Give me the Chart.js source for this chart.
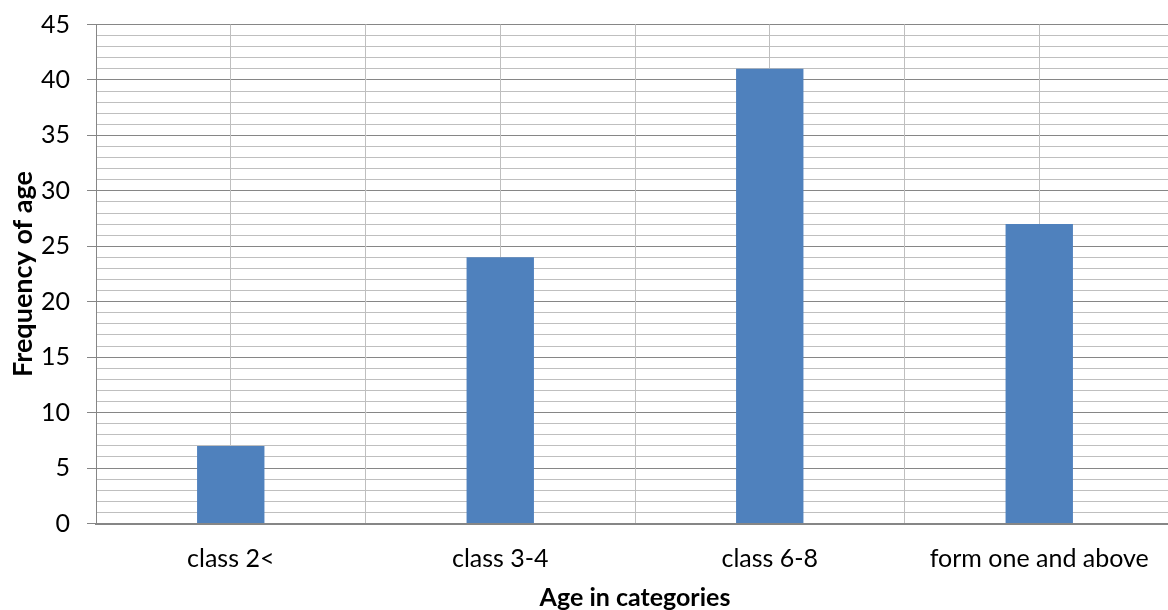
<!DOCTYPE html>
<html>
<head>
<meta charset="utf-8">
<script src="https://cdn.jsdelivr.net/npm/chart.js@4.4.1/dist/chart.umd.min.js"></script>
<style>
  html, body { margin: 0; padding: 0; background: #ffffff; overflow: hidden; }
  #wrap { width: 1174px; height: 610px; }
</style>
</head>
<body>
<div id="wrap"><canvas id="chart" width="1174" height="610"></canvas></div>
<script>
// Survey data: frequency of respondents per class / age category
const categories = ['class 2<', 'class 3-4', 'class 6-8', 'form one and above'];
const frequencies = [7, 24, 41, 27];

// Value axis range and tick spacing
const yMin = 0;
const yMax = 45;
const majorStep = 5;
const minorStep = 1;

const xTitle = 'Age in categories';
const yTitle = 'Frequency of age';

const FONT = 'Lato, "Open Sans", sans-serif';
const MAJOR_GRID = '#868686';
const MINOR_GRID = '#bfbfbf';
const BAR_BLUE = '#4f81bd';

// keep the plot edges fixed regardless of label overhang
const noVerticalPadding = (s) => { s.paddingTop = 0; s.paddingBottom = 0; };

new Chart(document.getElementById('chart'), {
  type: 'bar',
  data: {
    labels: categories,
    datasets: [{
      data: frequencies,
      backgroundColor: BAR_BLUE,
      borderWidth: 0,
      barPercentage: 1,
      categoryPercentage: 0.25,
      xAxisID: 'x',
      yAxisID: 'y'
    }]
  },
  options: {
    responsive: false,
    devicePixelRatio: 1,
    animation: false,
    events: [],
    layout: { padding: { top: 24.5, right: 0, bottom: 0, left: 0 } },
    plugins: {
      legend: { display: false },
      tooltip: { enabled: false }
    },
    scales: {
      // minor horizontal gridlines every unit
      yMinor: {
        type: 'linear',
        position: 'left',
        min: yMin,
        max: yMax,
        ticks: { display: false, stepSize: minorStep },
        grid: {
          color: (ctx) => (ctx.tick && ctx.tick.value % majorStep === 0) ? 'rgba(0,0,0,0)' : MINOR_GRID,
          drawTicks: false,
          lineWidth: 1
        },
        border: { display: false },
        afterFit: (s) => { s.width = 0; noVerticalPadding(s); }
      },
      y: {
        type: 'linear',
        position: 'left',
        min: yMin,
        max: yMax,
        ticks: {
          stepSize: majorStep,
          color: '#000000',
          padding: 17,
          font: { family: FONT, size: 25 }
        },
        grid: { color: MAJOR_GRID, tickLength: 9, lineWidth: 1 },
        border: { color: MAJOR_GRID, width: 1 },
        title: {
          display: true,
          text: yTitle,
          color: '#000000',
          font: { family: FONT, size: 27, weight: 'bold', lineHeight: 1 },
          padding: { top: 10, bottom: 0 }
        },
        afterFit: (s) => { s.width = 96; noVerticalPadding(s); }
      },
      // vertical gridlines through the category centres
      xCenter: {
        type: 'category',
        position: 'bottom',
        offset: true,
        ticks: { display: false },
        grid: { offset: false, color: MINOR_GRID, drawTicks: false, lineWidth: 1 },
        border: { display: false },
        afterFit: (s) => { s.height = 0; }
      },
      x: {
        type: 'category',
        position: 'bottom',
        offset: true,
        ticks: {
          color: '#000000',
          padding: 20,
          maxRotation: 0,
          font: { family: FONT, size: 25 }
        },
        grid: { offset: true, color: MINOR_GRID, drawTicks: false, lineWidth: 1 },
        border: { color: MAJOR_GRID, width: 2, z: 1 },
        title: {
          display: true,
          text: xTitle,
          color: '#000000',
          font: { family: FONT, size: 25, weight: 'bold', lineHeight: 1 },
          padding: { top: 0, bottom: 0 }
        },
        afterFit: (s) => { s.height = 86.5; }
      }
    }
  }
});
</script>
</body>
</html>
